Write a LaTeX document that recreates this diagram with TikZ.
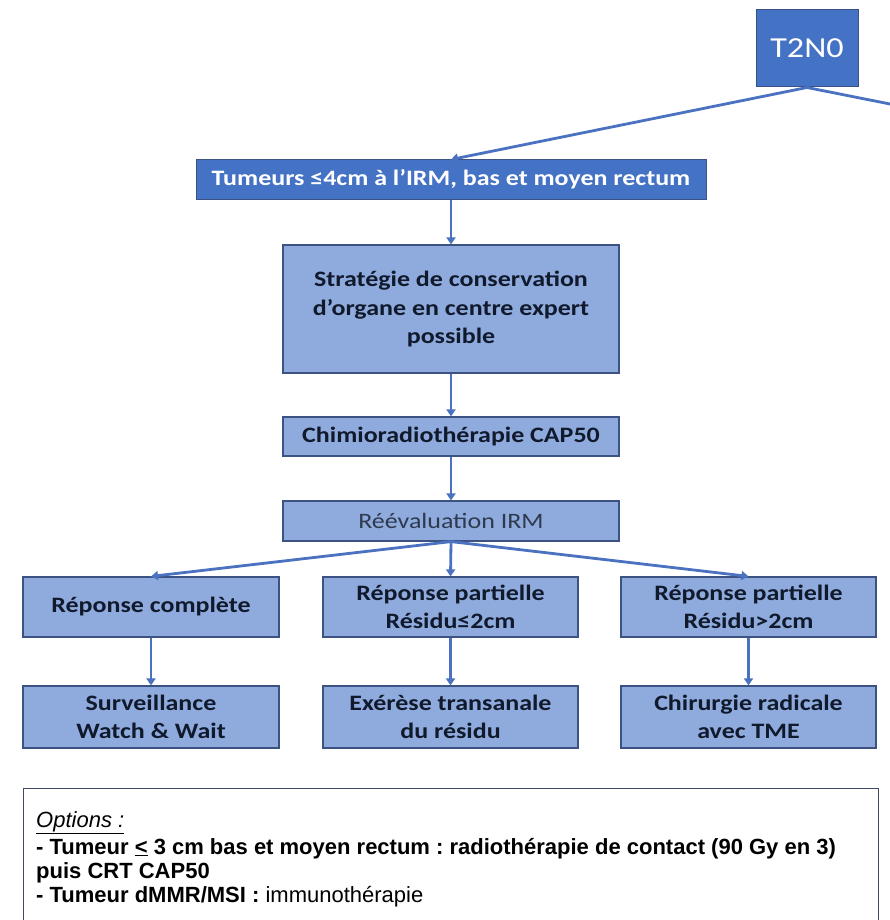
\documentclass[tikz,border=0pt]{standalone}
\usepackage{fontspec}
\usepackage{graphicx}
\setmainfont{Carlito}[FakeStretch=1.18]
\newfontfamily\arialf{Liberation Sans}
\usetikzlibrary{arrows.meta}
\definecolor{darkb}{HTML}{4472C4}
\definecolor{lightb}{HTML}{8FAADC}
\definecolor{edgeb}{HTML}{3B5283}
\definecolor{linec}{HTML}{4A72C0}
\definecolor{txt}{HTML}{101A2C}
\definecolor{greytxt}{HTML}{2E3A4E}
\definecolor{optedge}{HTML}{3E4A66}
\frenchspacing
\begin{document}
\begin{tikzpicture}[x=1pt,y=-1pt,
  darkbox/.style={draw=edgeb, line width=1pt, fill=darkb, text=white, inner sep=0pt, align=center},
  lightbox/.style={draw=edgeb, line width=1.2pt, fill=lightb, text=txt, inner sep=0pt, align=center, font=\fontsize{22}{28.5}\selectfont\bfseries},
  arr/.style={draw=linec, line width=2.8pt, -{Triangle[length=7pt,width=9pt]}},
  plainline/.style={draw=linec, line width=2.8pt},
  opttext/.style={anchor=base west, inner sep=0pt, font=\arialf\fontsize{22}{24}\selectfont, text=black}]
\useasboundingbox (0,0) rectangle (889,920);
\fill[white] (0,0) rectangle (889,920);

% top
\node[darkbox, minimum width=102pt, minimum height=77pt, font=\fontsize{29}{32}\selectfont] (t2n0) at (807,48.5) {T2N0};
\node[darkbox, minimum width=510pt, minimum height=39pt, font=\fontsize{22}{26}\selectfont\bfseries] (tum) at (451,179.5) {Tumeurs ≤4cm à l’IRM, bas et moyen rectum};

% central column
\node[lightbox, minimum width=336pt, minimum height=128pt] (strat) at (451,309) {Stratégie de conservation\\d’organe en centre expert\\possible};
\node[lightbox, minimum width=336pt, minimum height=39pt] (chimio) at (451,436.5) {Chimioradiothérapie CAP50};
\node[lightbox, minimum width=336pt, minimum height=40pt, font=\fontsize{22}{28}\selectfont, text=greytxt] (reeval) at (451,521) {Réévaluation IRM};

% row 1
\node[lightbox, minimum width=256pt, minimum height=60pt] (rc) at (151,607) {Réponse complète};
\node[lightbox, minimum width=255pt, minimum height=60pt] (rpa) at (450.5,607) {Réponse partielle\\Résidu≤2cm};
\node[lightbox, minimum width=255pt, minimum height=60pt] (rpb) at (748.5,607) {Réponse partielle\\Résidu>2cm};

% row 2
\node[lightbox, minimum width=256pt, minimum height=62pt] (surv) at (151,717) {Surveillance\\Watch \& Wait};
\node[lightbox, minimum width=255pt, minimum height=62pt] (exer) at (450.5,717) {Exérèse transanale\\du résidu};
\node[lightbox, minimum width=255pt, minimum height=62pt] (chir) at (748.5,717) {Chirurgie radicale\\avec TME};

% connectors
\coordinate (offright) at (895,105);
\draw[plainline] (t2n0.south) -- (offright);
\draw[arr] (t2n0.south) -- (tum.north);
\draw[arr] (tum.south) -- (strat.north);
\draw[arr] (strat.south) -- (chimio.north);
\draw[arr] (chimio.south) -- (reeval.north);
\draw[arr] (reeval.south) -- (rc.north);
\draw[arr] (reeval.south) -- (rpa.north);
\draw[arr] (reeval.south) -- (rpb.north);
\draw[arr] (rc.south) -- (surv.north);
\draw[arr] (rpa.south) -- (exer.north);
\draw[arr] (rpb.south) -- (chir.north);

% options box
\node[draw=optedge, line width=1.3pt, minimum width=855pt, minimum height=140pt, anchor=north west, inner sep=0pt] (opt) at (23,788) {};
\node[opttext] (o1) at (36,827) {\itshape\underline{Options :}};
\node[opttext] (o2) at (36,854) {\bfseries - Tumeur \underline{<} 3 cm bas et moyen rectum : radiothérapie de contact (90 Gy en 3)};
\node[opttext] (o3) at (36,878) {\bfseries puis CRT CAP50};
\node[opttext] (o4) at (36,902) {\textbf{- Tumeur dMMR/MSI :} immunothérapie};
\end{tikzpicture}
\end{document}
